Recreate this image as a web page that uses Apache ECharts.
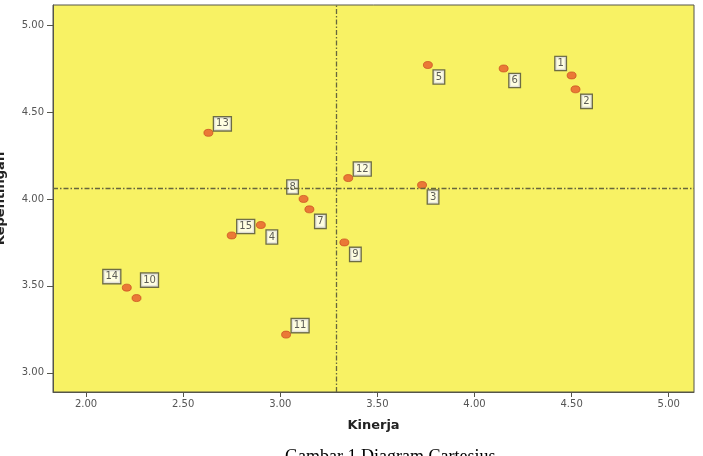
<!DOCTYPE html>
<html>
<head>
<meta charset="utf-8">
<script src="https://cdn.jsdelivr.net/npm/echarts@6/dist/echarts.min.js"></script>
<style>
  html, body { margin: 0; padding: 0; background: #fff; }
  #chart { width: 703px; height: 456px; }
</style>
</head>
<body>
<div id="chart"></div>
<script>
// Diagram Kartesius (IPA): Kinerja vs Kepentingan, 15 atribut
const ITEM_NO = ['1', '2', '3', '4', '5', '6', '7', '8', '9', '10', '11', '12', '13', '14', '15'];
const KINERJA = [4.50, 4.52, 3.73, 2.90, 3.76, 4.15, 3.15, 3.12, 3.33, 2.26, 3.03, 3.35, 2.63, 2.21, 2.75];
const KEPENTINGAN = [4.71, 4.63, 4.08, 3.85, 4.77, 4.75, 3.94, 4.00, 3.75, 3.43, 3.22, 4.12, 4.38, 3.49, 3.79];
const REF_X = 3.29; // rata-rata kinerja
const REF_Y = 4.06; // rata-rata kepentingan
const X_TICKS = [2.0, 2.5, 3.0, 3.5, 4.0, 4.5, 5.0];
const Y_TICKS = [3.0, 3.5, 4.0, 4.5, 5.0];

// letak kotak label relatif ke titik (px)
const TR = [14, -9], BR = [11, 12], TL = [-11, -12];
const LABEL_OFFSET = {
  '1': TL, '2': BR, '3': BR, '4': BR, '5': BR, '6': BR, '7': BR, '8': TL,
  '9': BR, '10': [13, -18], '11': TR, '12': TR, '13': TR, '14': [-15, -11], '15': TR,
};

const AXIS_COLOR = '#55554a';
const SANS = '"DejaVu Sans", Verdana, sans-serif';
const tickFont = { color: '#555', fontSize: 10, fontFamily: SANS };
const titleFont = { color: '#222', fontSize: 13, fontWeight: 'bold', fontFamily: SANS };

const points = ITEM_NO.map((n, i) => ({
  name: n,
  value: [KINERJA[i], KEPENTINGAN[i]],
  label: { offset: LABEL_OFFSET[n] },
}));

const chart = echarts.init(document.getElementById('chart'), null, { renderer: 'canvas' });
chart.setOption({
  animation: false,
  backgroundColor: '#ffffff',
  grid: {
    left: 53, right: 9, top: 5, bottom: 64,
    containLabel: false, outerBoundsMode: 'none',
    show: true, backgroundColor: '#f8f264', borderColor: AXIS_COLOR, borderWidth: 1,
  },
  xAxis: {
    type: 'value', min: 1.83, max: 5.13,
    name: 'Kinerja', nameLocation: 'middle', nameGap: 27,
    nameTextStyle: titleFont,
    axisLine: { show: true, onZero: false, lineStyle: { color: AXIS_COLOR } },
    axisTick: { show: true, inside: false, length: 5, customValues: X_TICKS, lineStyle: { color: AXIS_COLOR } },
    axisLabel: { ...tickFont, margin: 7, customValues: X_TICKS, formatter: (v) => v.toFixed(2) },
    splitLine: { show: false },
  },
  yAxis: {
    type: 'value', min: 2.89, max: 5.115,
    name: 'Kepentingan', nameLocation: 'middle', nameGap: 46, nameRotate: 90,
    nameTextStyle: titleFont,
    axisLine: { show: true, onZero: false, lineStyle: { color: AXIS_COLOR } },
    axisTick: { show: true, inside: false, length: 6, customValues: Y_TICKS, lineStyle: { color: AXIS_COLOR } },
    axisLabel: { ...tickFont, margin: 9, customValues: Y_TICKS, formatter: (v) => v.toFixed(2) },
    splitLine: { show: false },
  },
  series: [{
    type: 'scatter',
    symbol: 'circle',
    symbolSize: [9, 7],
    itemStyle: { color: '#e65a2a', borderColor: '#c4401a', borderWidth: 0.8 },
    label: {
      show: true,
      position: 'inside',
      formatter: (p) => p.name,
      color: '#333',
      fontSize: 10,
      fontFamily: SANS,
      backgroundColor: '#ffffff',
      borderColor: '#4a4a3c',
      borderWidth: 1.3,
      padding: [2, 2, 1, 2],
    },
    data: points,
    markLine: {
      silent: true,
      symbol: 'none',
      label: { show: false },
      lineStyle: { color: '#66663c', width: 1.3, type: [5, 2, 1.5, 2] },
      data: [{ xAxis: REF_X }, { yAxis: REF_Y }],
    },
  }],
  graphic: [{
    type: 'text',
    left: 285, top: 448,
    style: { text: 'Gambar 1 Diagram Cartesius', fill: '#000', font: '18px "Liberation Serif", "Times New Roman", serif' },
  }],
});
</script>
</body>
</html>
